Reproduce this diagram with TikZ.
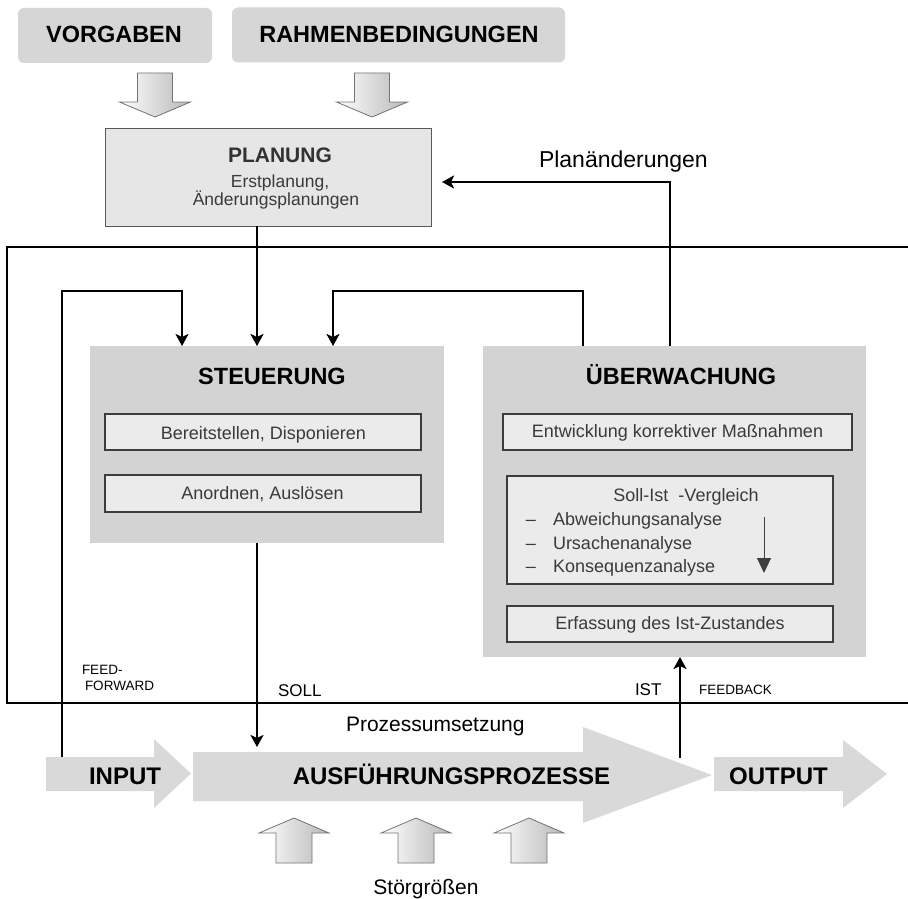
\documentclass[tikz,border=0pt]{standalone}
\usepackage{fontspec}
\setmainfont{Liberation Sans}
\usetikzlibrary{arrows.meta,calc}

\definecolor{topfill}{HTML}{D6D6D6}
\definecolor{planfill}{HTML}{E6E6E6}
\definecolor{panelfill}{HTML}{D3D3D3}
\definecolor{itemfill}{HTML}{EBEBEB}
\definecolor{itemline}{HTML}{3C3C3C}
\definecolor{itemtext}{HTML}{3A3A3A}
\definecolor{flowfill}{HTML}{D9D9D9}

\newcommand\fsz[1]{\fontsize{#1}{#1}\selectfont}

\begin{document}
\begin{tikzpicture}[x=1pt,y=-1pt,
  every node/.style={inner sep=0pt, outer sep=0pt},
  topbox/.style={fill=topfill, rounded corners=6pt, rectangle},
  planbox/.style={fill=planfill, draw=black!65, line width=1pt, rectangle},
  panel/.style={fill=panelfill, rectangle},
  itembox/.style={fill=itemfill, draw=itemline, line width=1.3pt, rectangle},
  headline/.style={anchor=base, font=\fsz{23.5}\bfseries},
  itemlabel/.style={anchor=base, font=\fsz{18}, text=itemtext},
  smalllabel/.style={anchor=base west, font=\fsz{13.5}},
  conn/.style={line width=2.8pt, -{Stealth[length=12pt,width=13pt,inset=3pt]}},
  hollow/.style={draw=black!55, line width=0.8pt, left color=white, right color=black!28},
  flow/.style={fill=flowfill},
  fatdown/.pic={\path[hollow] (-17.5,0) -- (17.5,0) -- (17.5,29) -- (35.5,29)
      -- (0,44) -- (-35.5,29) -- (-17.5,29) -- cycle;},
  fatup/.pic={\path[hollow] (-18,0) -- (18,0) -- (18,-30) -- (35,-30)
      -- (0,-45) -- (-35,-30) -- (-18,-30) -- cycle;}
]
\useasboundingbox (0,0) rectangle (908,899);

% outer frame (open to the right)
\draw[line width=1.5pt] (912,247) -- (7,247) -- (7,703) -- (912,703);

% inputs from above
\node[topbox, minimum width=194pt, minimum height=55pt] (vorg) at (115,35.5) {};
\node[headline] at (114,43) {VORGABEN};
\node[topbox, minimum width=333pt, minimum height=55pt] (rahm) at (398.5,35) {};
\node[headline] at (399,42.5) {RAHMENBEDINGUNGEN};
\pic at (155,73) {fatdown};
\pic at (372,73) {fatdown};

% planning
\node[planbox, minimum width=326pt, minimum height=98pt] (plan) at (268,177) {};
\node[anchor=base, font=\fsz{21}\bfseries, text=black!80] at (280,162) {PLANUNG};
\node[itemlabel, font=\fsz{17.5}] at (280,187) {Erstplanung,};
\node[itemlabel, font=\fsz{17.5}] at (276,205) {Änderungsplanungen};
\node[anchor=base west, font=\fsz{23}] (pchg) at (539,167.5) {Planänderungen};

% control
\node[panel, minimum width=354pt, minimum height=197pt] (steu) at (267,444.5) {};
\node[headline] at (272,384) {STEUERUNG};
\node[itembox, minimum width=316pt, minimum height=36pt] (bereit) at (263,432) {};
\node[itemlabel] at (263.5,439) {Bereitstellen, Disponieren};
\node[itembox, minimum width=316pt, minimum height=37pt] (anord) at (263,493.5) {};
\node[itemlabel] at (262.5,499.5) {Anordnen, Auslösen};

% monitoring
\node[panel, minimum width=383pt, minimum height=311pt] (ueb) at (674.5,501.5) {};
\node[headline] at (681,384) {ÜBERWACHUNG};
\node[itembox, minimum width=349pt, minimum height=36pt] (entw) at (677.5,432) {};
\node[itemlabel] at (677.5,437.7) {Entwicklung korrektiver Maßnahmen};
\node[itembox, minimum width=326pt, minimum height=108pt] (sollist) at (670,530) {};
\node[itemlabel] at (686,501) {Soll-Ist\ \ -Vergleich};
\foreach \yy/\txt in {525/Abweichungsanalyse, 549/Ursachenanalyse, 572.7/Konsequenzanalyse}{
  \node[itemlabel] at (531,\yy) {\textendash};
  \node[itemlabel, anchor=base west] at (553,\yy) {\txt};
}
\draw[line width=1pt, color=black!75, -{Triangle[length=15pt,width=14pt]}]
  ($(sollist.north east)+(-69,41)$) -- ++(0,56);
\node[itembox, minimum width=326pt, minimum height=36pt] (erf) at (670,624) {};
\node[itemlabel] at (670,629.3) {Erfassung des Ist-Zustandes};

% process chain
\path[flow] (46,757) -- (154,757) -- (154,739) -- (191,773.5) -- (154,808)
  -- (154,791) -- (46,791) -- cycle;
\path[flow] (193,752) -- (583,752) -- (583,727) -- (712,775) -- (583,823)
  -- (583,801) -- (193,801) -- cycle;
\path[flow] (714,757) -- (843,757) -- (843,740) -- (887,774) -- (843,808)
  -- (843,791) -- (714,791) -- cycle;
\node[anchor=base, font=\fsz{24}\bfseries] (inp) at (125,784) {INPUT};
\node[anchor=base, font=\fsz{24}\bfseries] (ausf) at (451.5,784) {AUSFÜHRUNGSPROZESSE};
\node[anchor=base, font=\fsz{24}\bfseries] (outp) at (778.5,784) {OUTPUT};
\node[anchor=base west, font=\fsz{21}] (umsetz) at (346,731.7) {Prozessumsetzung};

% disturbances
\pic at (294,863) {fatup};
\pic at (416,863) {fatup};
\pic at (529,863) {fatup};
\node[anchor=base, font=\fsz{21}] (stoer) at (426,894) {Störgrößen};

% connector end points on the process arrows
\coordinate (ffin) at (62,757);
\coordinate (sollin) at (257,747);
\coordinate (istout) at (680,758);

% connectors
\draw[conn] ($(plan.south)+(-11,0)$) -- ($(steu.north)+(-10,0)$);
\draw[conn] (ffin) |- ($(steu.north)+(-85,-55)$) -- ($(steu.north)+(-85,0)$);
\draw[conn] ($(ueb.north west)+(100,0)$) -- ++(0,-55) -| ($(steu.north)+(66,0)$);
\draw[conn] ($(ueb.north west)+(187,0)$) -- ++(0,-164) -- ($(plan.east)+(11,5)$);
\draw[conn] ($(steu.south)+(-10,0)$) -- (sollin);
\draw[conn] (istout) -- (ueb.south -| istout);

% flow labels
\node[smalllabel] at (82,674) {FEED-};
\node[smalllabel] at (85,690.7) {FORWARD};
\node[anchor=base west, font=\fsz{17}] at (278,696) {SOLL};
\node[anchor=base west, font=\fsz{17}] at (635,695.7) {IST};
\node[smalllabel] at (699,694.3) {FEEDBACK};
\end{tikzpicture}
\end{document}
